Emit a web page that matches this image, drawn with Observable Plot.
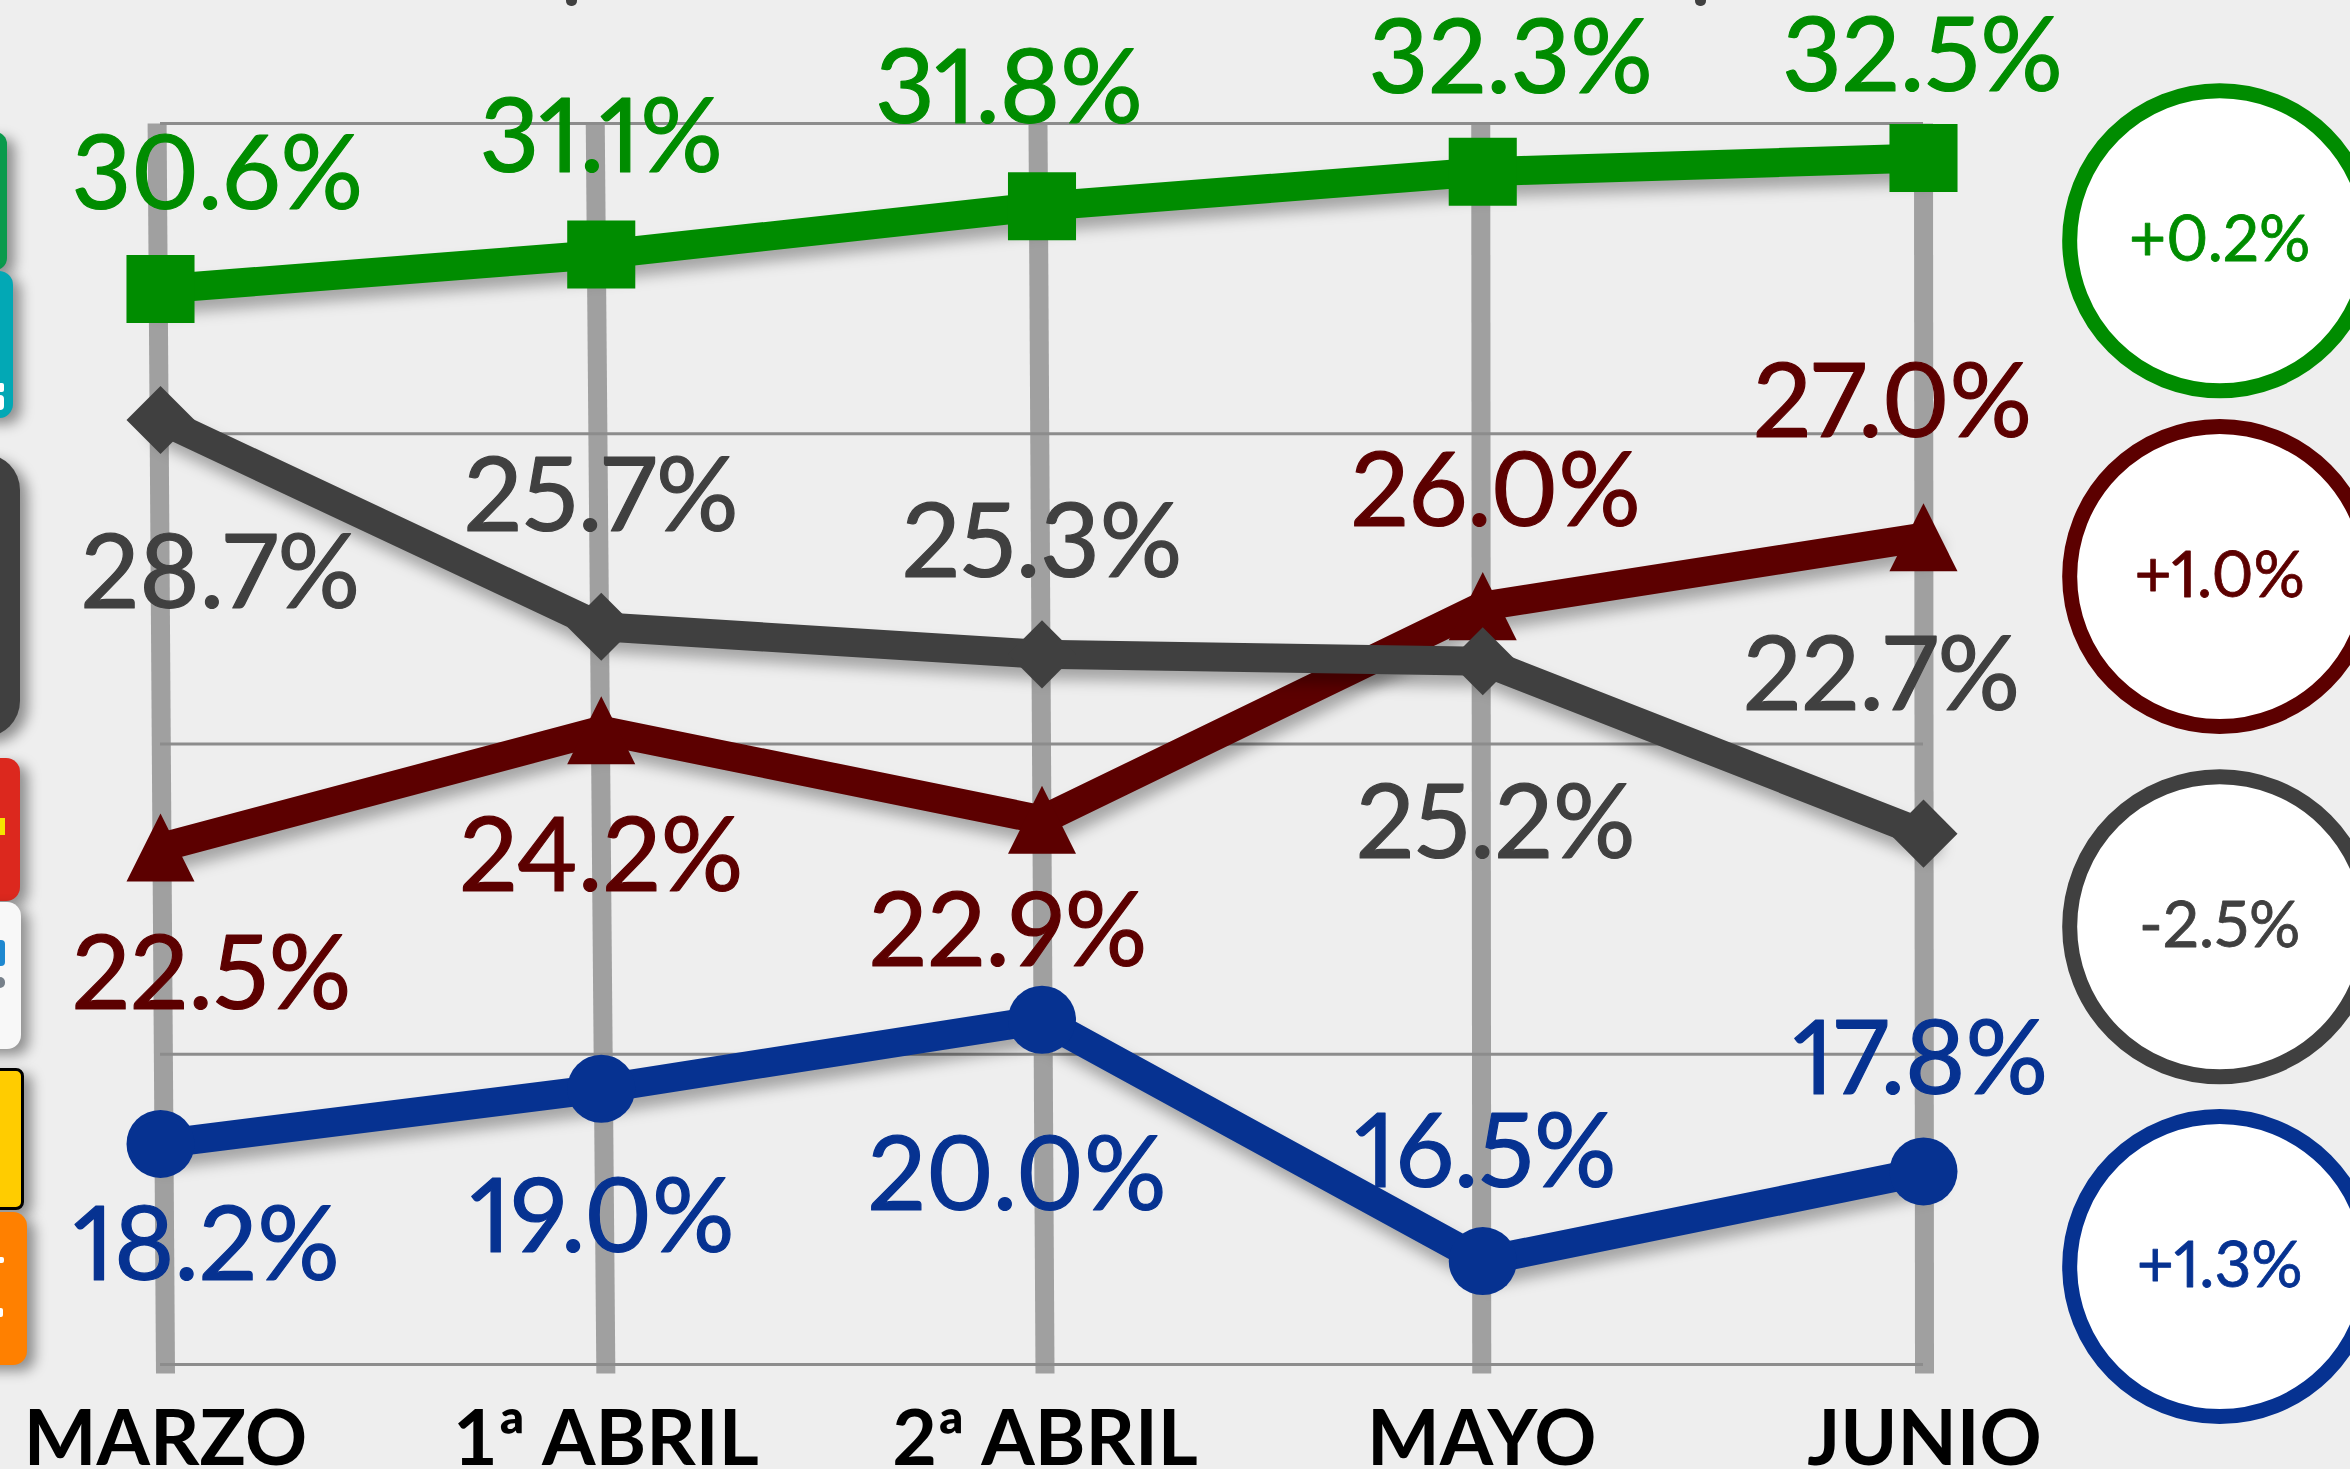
<!DOCTYPE html>
<html>
<head>
<meta charset="utf-8">
<script src="https://cdn.jsdelivr.net/npm/d3@7"></script>
<script src="https://cdn.jsdelivr.net/npm/@observablehq/plot@0.6"></script>
<style>
html,body{margin:0;padding:0;background:#eeeeee;width:2350px;height:1469px;overflow:hidden;position:relative}
#chart{position:absolute;left:0;top:0}
svg{display:block}
g[aria-label="line"]{filter:drop-shadow(4px 11px 7px rgba(0,0,0,.3))}
.logo{position:absolute;left:-60px;box-sizing:border-box;box-shadow:8px 6px 13px rgba(0,0,0,.4);overflow:hidden}
.logo i,.tail{position:absolute;display:block}
</style>
</head>
<body>
<div id="chart"></div>
<script>
const months = ["MARZO", "1ª ABRIL", "2ª ABRIL", "MAYO", "JUNIO"];
const green = [30.6, 31.1, 31.8, 32.3, 32.5];
const grey = [28.7, 25.7, 25.3, 25.2, 22.7];
const red = [22.5, 24.2, 22.9, 26.0, 27.0];
const blue = [18.2, 19.0, 20.0, 16.5, 17.8];
const changes = ["+0.2%", "+1.0%", "-2.5%", "+1.3%"];
const seriesNames = ["green", "red", "grey", "blue"];
const colors = {green: "#008c00", red: "#5c0000", grey: "#404040", blue: "#063291"};
const gridValues = [15, 19.5, 24, 28.5, 33];

// placement, in pixels from the natural position
const dxLabel = {green: [57, 0, -33, 28, -1], grey: [60, 0, 0, 13, -42], red: [51, 0, -34, 13, -31], blue: [46, 1, -25, 3, -3]};
const dyLabel = {green: [-113, -115, -116, -112, -100], grey: [155, -129, -110, 164, -157], red: [129, 128, 113, -113, -133], blue: [103, 130, 157, -107, -110]};
const barTopPx = [-3.4, -6, -4, -2, 0];
const barBottomPx = [5, 4.6, 3, -1, 1];
const badgeYValues = [31.3, 26.43, 21.35, 16.42];
const badgeColumn = 4.672;

const X0 = 160, X1 = 1923, Y0 = 1364, Y1 = 123;
const pxX = (X1 - X0) / 4, pxY = (Y0 - Y1) / 18;

const series = {green, red, grey, blue};
const symbols = {
  green: {draw(c, s) { const h = Math.sqrt(s) / 2; c.rect(-h, -h, 2 * h, 2 * h); }},
  grey: {draw(c, s) { const h = Math.sqrt(s) / 2; c.moveTo(0, -h); c.lineTo(h, 0); c.lineTo(0, h); c.lineTo(-h, 0); c.closePath(); }},
  red: {draw(c, s) { const h = Math.sqrt(s) / 2; c.moveTo(0, -h); c.lineTo(h, h); c.lineTo(-h, h); c.closePath(); }},
  blue: "circle"
};
const radius = {green: 38.4, grey: 38.4, red: 38.4, blue: 34};
const order = ["red", "grey", "blue", "green"];

const marks = [];
marks.push(Plot.link(months.map((m, i) => i), {
  x1: i => i + barTopPx[i] / pxX,
  x2: i => i + barBottomPx[i] / pxX,
  y1: 33,
  y2: 15 - 9 / pxY,
  stroke: "#a0a0a0",
  strokeWidth: 19
}));
marks.push(Plot.ruleY(gridValues, {x1: 0, x2: 4, stroke: "#8c8c8c", strokeWidth: 3}));

for (const name of order) {
  const rows = series[name].map((v, i) => ({i, v}));
  marks.push(Plot.line(rows, {x: "i", y: "v", stroke: colors[name], strokeWidth: 29, strokeLinejoin: "miter"}));
  marks.push(Plot.dot(rows, {x: "i", y: "v", r: radius[name], symbol: symbols[name], fill: colors[name], stroke: "none"}));
}
for (const name of order) {
  const rows = series[name].map((v, i) => ({i, v}));
  marks.push(Plot.text(rows, {
    x: d => d.i + dxLabel[name][d.i] / pxX,
    y: d => d.v - dyLabel[name][d.i] / pxY,
    text: d => d.v.toFixed(1) + "%",
    fill: colors[name],
    stroke: colors[name],
    strokeWidth: 1.2,
    fontSize: 103,
    fontWeight: 400,
    fontVariant: "proportional-nums",
    textAnchor: "middle"
  }));
}
// change badges
const badges = changes.map((t, i) => ({t, name: seriesNames[i], y: badgeYValues[i]}));
marks.push(Plot.dot(badges, {
  x: badgeColumn, y: "y", r: 150, fill: "white",
  stroke: d => colors[d.name], strokeWidth: 15, ariaLabel: "badge"
}));
marks.push(Plot.text(badges, {
  x: badgeColumn, y: "y", text: "t", fill: d => colors[d.name],
  stroke: d => colors[d.name], strokeWidth: 0.8,
  fontSize: 64, fontWeight: 400, fontVariant: "proportional-nums", textAnchor: "middle"
}));
// month axis
marks.push(Plot.axisX(months.map((m, i) => i + barBottomPx[i] / pxX), {
  anchor: "bottom",
  tickSize: 0,
  tickPadding: 0,
  tickFormat: d => months[Math.round(d)],
  fontSize: 77,
  fontWeight: 700,
  fill: "black",
  label: null,
  textAnchor: "middle",
  lineAnchor: "bottom",
  dy: -5
}));

const plot = Plot.plot({
  width: 2350, height: 1469,
  marginLeft: 0, marginRight: 0, marginTop: 0, marginBottom: 0,
  style: {background: "transparent", fontFamily: "Lato", overflow: "hidden"},
  x: {type: "linear", domain: [0, 4], range: [X0, X1], axis: null},
  y: {type: "linear", domain: [15, 33], range: [Y0, Y1], axis: null},
  color: {type: "identity"},
  marks
});
document.getElementById("chart").appendChild(plot);

// party logos cropped off at the left edge
const logos = [
  {bg: "#0a9a4c", right: 7, top: 132, bottom: 270, r: 12, bits: []},
  {bg: "#02a8b5", right: 13, top: 271, bottom: 418, r: 14, bits: [["#fff", 112, 9, 4, 2], ["#fff", 124, 15, 4, 5]]},
  {bg: "#404040", right: 20, top: 454, bottom: 737, r: 36, bits: []},
  {bg: "#dc281e", right: 20, top: 758, bottom: 901, r: 14, bits: [["#f5e400", 60, 17, 5, 0]]},
  {bg: "#f8f8f8", right: 21, top: 902, bottom: 1049, r: 14, bits: [["#1e88d0", 38, 26, 5, 4], ["#77808a", 75, 11, 5, 5]]},
  {bg: "#ffcc00", right: 24, top: 1068, bottom: 1210, r: 8, border: "3px solid #000", bits: []},
  {bg: "#ff8000", right: 27, top: 1212, bottom: 1365, r: 14, bits: [["#fff", 45, 6, 4, 2], ["#fff", 96, 9, 3, 2]]}
];
for (const l of logos) {
  const el = document.createElement("div");
  el.className = "logo";
  el.style.cssText = `top:${l.top}px;height:${l.bottom - l.top}px;width:${60 + l.right}px;background:${l.bg};border-radius:${l.r}px;${l.border ? "border:" + l.border : ""}`;
  for (const [c, t, h, w, r] of l.bits) {
    const b = document.createElement("i");
    b.style.cssText = `left:60px;top:${t}px;height:${h}px;width:${w}px;background:${c};border-radius:0 ${r}px ${r}px 0`;
    el.appendChild(b);
  }
  document.body.appendChild(el);
}
// the tips of two letters from a title cropped off at the top edge
for (const left of [566, 1695]) {
  const t = document.createElement("div");
  t.className = "tail";
  t.style.cssText = `left:${left}px;top:0;width:11px;height:6px;background:#404040;border-radius:0 0 5px 5px`;
  document.body.appendChild(t);
}
</script>
</body>
</html>
